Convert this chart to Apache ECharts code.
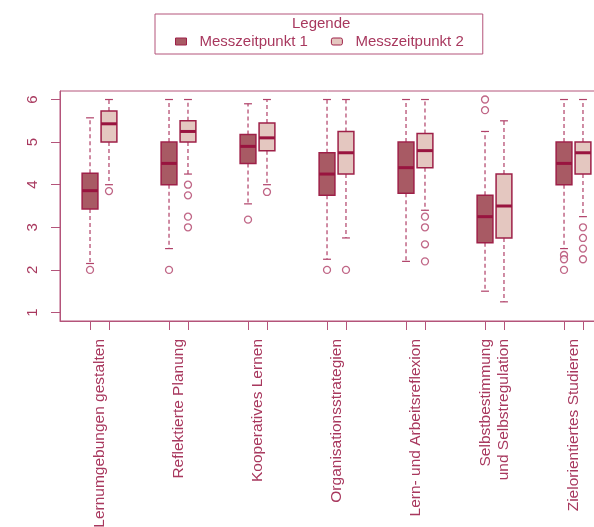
<!DOCTYPE html>
<html>
<head>
<meta charset="utf-8">
<script src="https://cdn.jsdelivr.net/npm/echarts@6/dist/echarts.min.js"></script>
<style>
  html, body { margin: 0; padding: 0; background: #fff; }
  #chart { width: 594px; height: 527px; }
</style>
</head>
<body>
<div id="chart"></div>
<script>
// Kategorien (Skalen)
var categories = [
    'Lernumgebungen gestalten',
    'Reflektierte Planung',
    'Kooperatives Lernen',
    'Organisationsstrategien',
    'Lern- und Arbeitsreflexion',
    'Selbstbestimmung\nund Selbstregulation',
    'Zielorientiertes Studieren'
];
var yTicks = [1, 2, 3, 4, 5, 6];

// [unterer Whisker, Q1, Median, Q3, oberer Whisker]
var mzp1Stats = [
    [2.15, 3.43, 3.86, 4.27, 5.57],
    [2.5, 4.0, 4.5, 5.0, 6.0],
    [3.55, 4.5, 4.9, 5.18, 5.9],
    [2.25, 3.75, 4.25, 4.75, 6.0],
    [2.2, 3.8, 4.4, 5.0, 6.0],
    [1.5, 2.64, 3.25, 3.75, 5.25],
    [2.5, 4.0, 4.5, 5.0, 6.0]
];
var mzp2Stats = [
    [4.0, 5.0, 5.43, 5.73, 6.0],
    [4.25, 5.0, 5.25, 5.5, 6.0],
    [4.0, 4.8, 5.1, 5.45, 6.0],
    [2.75, 4.25, 4.75, 5.25, 6.0],
    [3.4, 4.4, 4.8, 5.2, 6.0],
    [1.25, 2.75, 3.5, 4.25, 5.5],
    [3.25, 4.25, 4.75, 5.0, 6.0]
];

// Ausreisser: [Kategorie-Index, Wert]
var mzp1Outliers = [
    [0, 2.0], [1, 2.0], [2, 3.18], [3, 2.0],
    [5, 5.75], [5, 6.0], [6, 2.35], [6, 2.25], [6, 2.0]
];
var mzp2Outliers = [
    [0, 3.85], [1, 4.0], [1, 3.75], [1, 3.25], [1, 3.0], [2, 3.83], [3, 2.0],
    [4, 3.25], [4, 3.0], [4, 2.6], [4, 2.2],
    [6, 3.0], [6, 2.75], [6, 2.5], [6, 2.25]
];

var seriesNames = ['Messzeitpunkt 1', 'Messzeitpunkt 2'];

// Farben
var textColor = '#a8385e';
var axisColor = '#b4547a';
var boxBorder = '#9e2048';
var medianColor = '#99143f';
var whiskerColor = '#b04068';
var fill1 = '#a85a64';
var fill2 = '#e4c7c0';

var offset = 0.12;   // Abstand Box zur Gruppenmitte (Achseneinheiten)
var boxWidth = 0.2;  // Boxbreite (Achseneinheiten)

var myChart = echarts.init(document.getElementById('chart'));

function renderBox(params, api) {
    var pos = api.value(0);
    var lo = api.coord([pos, api.value(1)]);
    var q1 = api.coord([pos, api.value(2)]);
    var med = api.coord([pos, api.value(3)]);
    var q3 = api.coord([pos, api.value(4)]);
    var hi = api.coord([pos, api.value(5)]);
    var half = api.size([boxWidth, 0])[0] / 2;
    var x = lo[0];
    var dashed = { stroke: whiskerColor, lineWidth: 1.2, lineDash: [4, 3] };
    var solid = { stroke: whiskerColor, lineWidth: 1.2 };
    return {
        type: 'group',
        children: [
            { type: 'line', shape: { x1: x, y1: q3[1], x2: x, y2: hi[1] }, style: dashed },
            { type: 'line', shape: { x1: x, y1: q1[1], x2: x, y2: lo[1] }, style: dashed },
            { type: 'line', shape: { x1: x - half / 2, y1: hi[1], x2: x + half / 2, y2: hi[1] }, style: solid },
            { type: 'line', shape: { x1: x - half / 2, y1: lo[1], x2: x + half / 2, y2: lo[1] }, style: solid },
            {
                type: 'rect',
                shape: { x: x - half, y: q3[1], width: half * 2, height: q1[1] - q3[1] },
                style: { fill: api.visual('color'), stroke: boxBorder, lineWidth: 1.5 }
            },
            {
                type: 'line',
                shape: { x1: x - half, y1: med[1], x2: x + half, y2: med[1] },
                style: { stroke: medianColor, lineWidth: 3 }
            }
        ]
    };
}

function boxData(stats, shift) {
    return stats.map(function(s, i) {
        return [i + 1 + shift].concat(s);
    });
}

function outlierData(list, shift) {
    return list.map(function(o) {
        return [o[0] + 1 + shift, o[1]];
    });
}

// Tick-Positionen an den Boxen
var boxPositions = [];
for (var i = 0; i < categories.length; i++) {
    boxPositions.push(i + 1 - offset, i + 1 + offset);
}
var groupPositions = categories.map(function(c, i) { return i + 1; });

var outlierStyle = {
    color: '#fff',
    borderColor: whiskerColor,
    borderWidth: 1.3
};

option = {
    animation: false,
    textStyle: { fontFamily: 'Liberation Sans' },
    graphic: [{
        type: 'text',
        left: 292,
        top: 16,
        style: {
            text: 'Legende',
            fill: textColor,
            font: '15px "Liberation Sans"'
        }
    }],
    legend: {
        left: 155,
        top: 14,
        padding: [20, 19, 5, 20],
        borderColor: axisColor,
        borderWidth: 1,
        itemWidth: 11,
        itemHeight: 7,
        itemGap: 23,
        textStyle: { color: textColor, fontSize: 15, padding: [0, 0, 0, 8] },
        selectedMode: false,
        data: [
            { name: seriesNames[0], icon: 'rect', itemStyle: { color: fill1, borderColor: boxBorder, borderWidth: 1 } },
            { name: seriesNames[1], icon: 'roundRect', itemStyle: { color: fill2, borderColor: boxBorder, borderWidth: 1 } }
        ]
    },
    grid: {
        left: 60,
        top: 91,
        width: 553,
        height: 230,
        outerBoundsMode: 'none',
        show: true,
        borderColor: axisColor,
        borderWidth: 1
    },
    xAxis: {
        type: 'value',
        min: 0.5,
        max: 7.5,
        splitLine: { show: false },
        axisLine: { show: true, lineStyle: { color: axisColor } },
        axisTick: { show: true, length: 9, customValues: boxPositions, lineStyle: { color: axisColor } },
        axisLabel: {
            customValues: groupPositions,
            rotate: 90,
            margin: 18,
            color: textColor,
            fontSize: 15.5,
            lineHeight: 18,
            formatter: function(v) {
                return categories[Math.round(v) - 1];
            }
        }
    },
    yAxis: {
        type: 'value',
        min: 0.8,
        max: 6.2,
        splitLine: { show: false },
        axisLine: { show: true, lineStyle: { color: axisColor } },
        axisTick: { show: true, length: 9, customValues: yTicks, lineStyle: { color: axisColor } },
        axisLabel: {
            customValues: yTicks,
            rotate: 90,
            margin: 20,
            color: textColor,
            fontSize: 15
        }
    },
    series: [
        {
            name: seriesNames[0],
            type: 'custom',
            renderItem: renderBox,
            itemStyle: { color: fill1 },
            encode: { x: 0, y: [1, 2, 3, 4, 5] },
            data: boxData(mzp1Stats, -offset),
            z: 2
        },
        {
            name: seriesNames[1],
            type: 'custom',
            renderItem: renderBox,
            itemStyle: { color: fill2 },
            encode: { x: 0, y: [1, 2, 3, 4, 5] },
            data: boxData(mzp2Stats, offset),
            z: 2
        },
        {
            name: seriesNames[0],
            type: 'scatter',
            symbol: 'circle',
            symbolSize: 7,
            itemStyle: outlierStyle,
            data: outlierData(mzp1Outliers, -offset),
            z: 3
        },
        {
            name: seriesNames[1],
            type: 'scatter',
            symbol: 'circle',
            symbolSize: 7,
            itemStyle: outlierStyle,
            data: outlierData(mzp2Outliers, offset),
            z: 3
        }
    ]
};

myChart.setOption(option);
</script>
</body>
</html>
